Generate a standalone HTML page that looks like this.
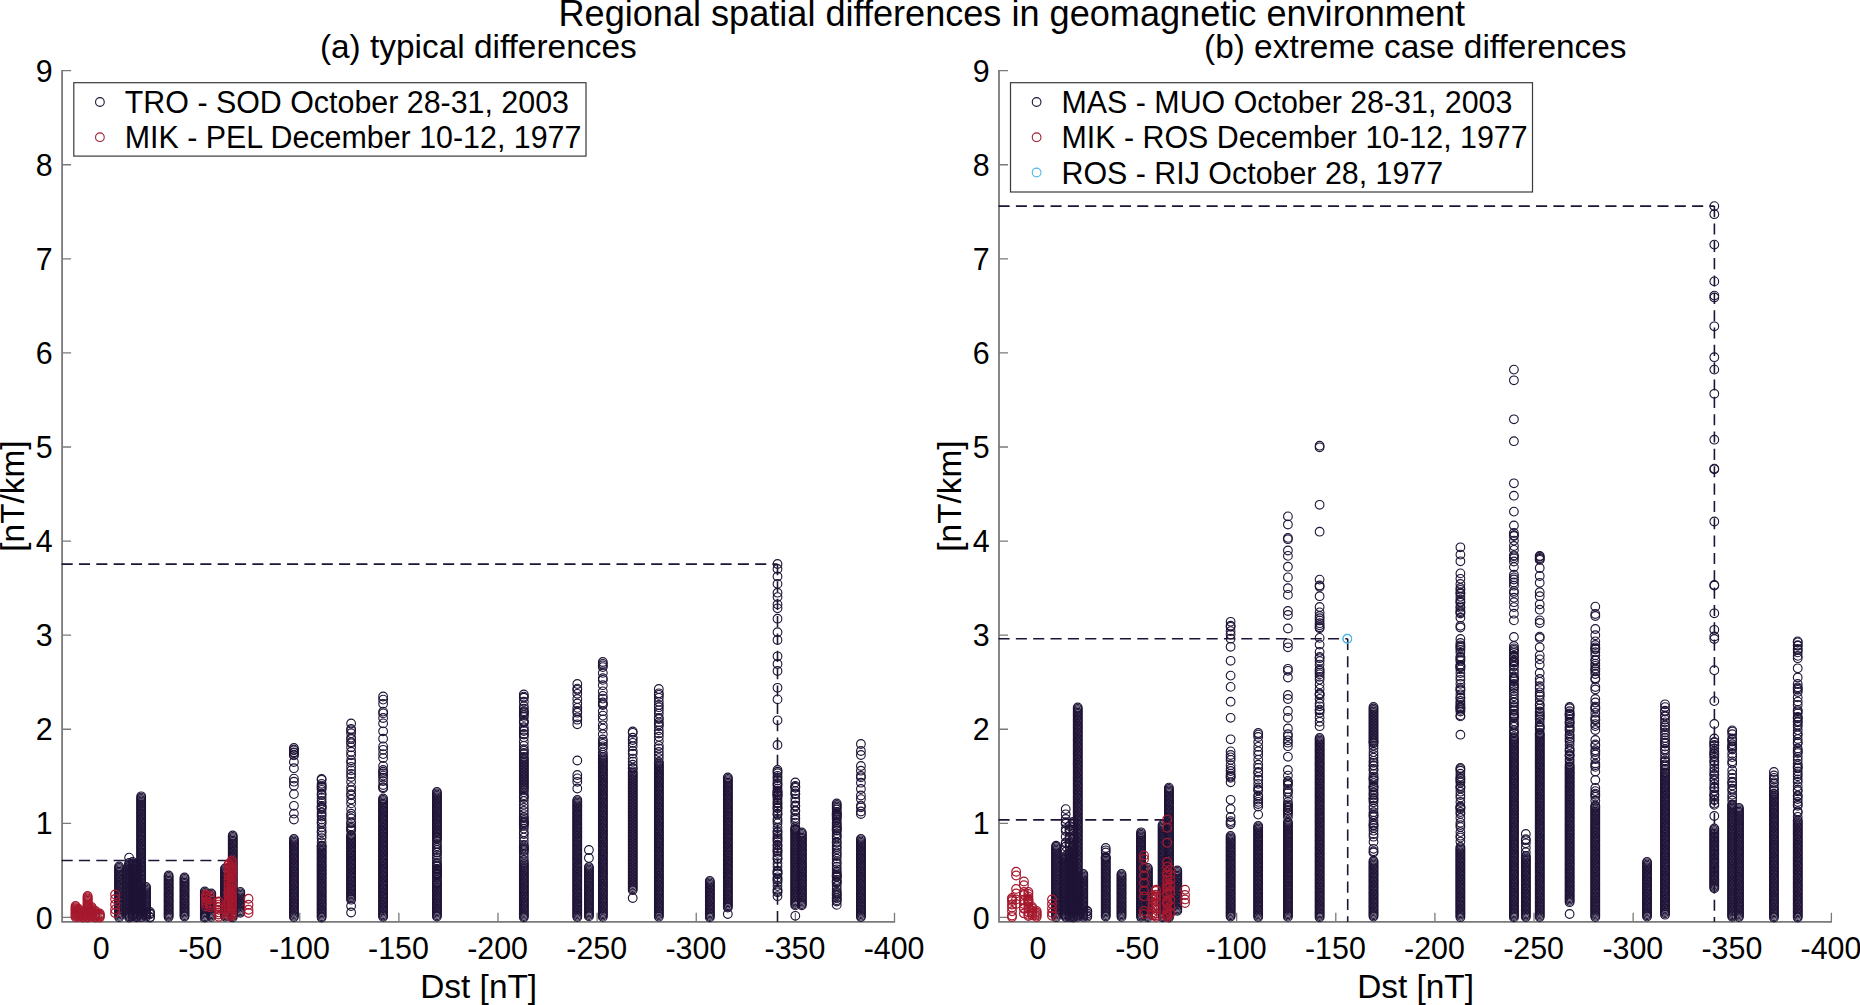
<!DOCTYPE html><html><head><meta charset="utf-8"><title>Regional spatial differences in geomagnetic environment</title>
<style>html,body{margin:0;padding:0;background:#fff}svg{display:block}text{font-family:"Liberation Sans",Arial,Helvetica,sans-serif;fill:#000}.t{font-size:30.4px}.s{font-size:33.4px}.m{font-size:36.12px}.ax{stroke:#7a7a7a;stroke-width:1.8;fill:none}.tk{stroke:#7a7a7a;stroke-width:1.3;fill:none}.d{stroke:#1f1436;stroke-width:1.6;fill:none;stroke-dasharray:11.1 6.24}.c{fill:none;stroke:none}</style></head><body>
<svg width="1860" height="1005" viewBox="0 0 1860 1005">
<defs>
<marker id="k" markerUnits="userSpaceOnUse" markerWidth="12" markerHeight="12" refX="6" refY="6" overflow="visible"><circle cx="6" cy="6" r="4.35" fill="none" stroke="#1f1436" stroke-width="1.1"/></marker>
<marker id="r" markerUnits="userSpaceOnUse" markerWidth="12" markerHeight="12" refX="6" refY="6" overflow="visible"><circle cx="6" cy="6" r="4.35" fill="none" stroke="#a6192e" stroke-width="1.2"/></marker>
<marker id="b" markerUnits="userSpaceOnUse" markerWidth="12" markerHeight="12" refX="6" refY="6" overflow="visible"><circle cx="6" cy="6" r="4.35" fill="none" stroke="#4db8e8" stroke-width="1.1"/></marker>
</defs>
<rect width="100%" height="100%" fill="#fff"/>
<text class="m" x="1011.8" y="26" text-anchor="middle">Regional spatial differences in geomagnetic environment</text>
<text class="s" x="478.3" y="58" text-anchor="middle">(a) typical differences</text>
<text class="s" x="1415.3" y="58" text-anchor="middle">(b) extreme case differences</text>
<path class="ax" d="M62.1 70.0V921.85H895.1"/>
<path class="tk" d="M62.1 917.45h9M62.1 823.36h9M62.1 729.27h9M62.1 635.18h9M62.1 541.09h9M62.1 447.00h9M62.1 352.91h9M62.1 258.82h9M62.1 164.73h9M62.1 70.64h9M101.50 921.85v-9M200.62 921.85v-9M299.75 921.85v-9M398.88 921.85v-9M498.00 921.85v-9M597.12 921.85v-9M696.25 921.85v-9M795.38 921.85v-9M894.50 921.85v-9"/>
<text class="t" transform="translate(52.7 928.5) scale(1 1.045)" text-anchor="end">0</text>
<text class="t" transform="translate(52.7 834.4) scale(1 1.045)" text-anchor="end">1</text>
<text class="t" transform="translate(52.7 740.3) scale(1 1.045)" text-anchor="end">2</text>
<text class="t" transform="translate(52.7 646.2) scale(1 1.045)" text-anchor="end">3</text>
<text class="t" transform="translate(52.7 552.1) scale(1 1.045)" text-anchor="end">4</text>
<text class="t" transform="translate(52.7 458.0) scale(1 1.045)" text-anchor="end">5</text>
<text class="t" transform="translate(52.7 363.9) scale(1 1.045)" text-anchor="end">6</text>
<text class="t" transform="translate(52.7 269.8) scale(1 1.045)" text-anchor="end">7</text>
<text class="t" transform="translate(52.7 175.7) scale(1 1.045)" text-anchor="end">8</text>
<text class="t" transform="translate(52.7 81.6) scale(1 1.045)" text-anchor="end">9</text>
<text class="t" transform="translate(101.1 959.4) scale(1 1.045)" text-anchor="middle">0</text>
<text class="t" transform="translate(200.2 959.4) scale(1 1.045)" text-anchor="middle">-50</text>
<text class="t" transform="translate(299.4 959.4) scale(1 1.045)" text-anchor="middle">-100</text>
<text class="t" transform="translate(398.5 959.4) scale(1 1.045)" text-anchor="middle">-150</text>
<text class="t" transform="translate(497.6 959.4) scale(1 1.045)" text-anchor="middle">-200</text>
<text class="t" transform="translate(596.7 959.4) scale(1 1.045)" text-anchor="middle">-250</text>
<text class="t" transform="translate(695.9 959.4) scale(1 1.045)" text-anchor="middle">-300</text>
<text class="t" transform="translate(795.0 959.4) scale(1 1.045)" text-anchor="middle">-350</text>
<text class="t" transform="translate(894.1 959.4) scale(1 1.045)" text-anchor="middle">-400</text>
<text class="s" x="478.7" y="997.7" text-anchor="middle">Dst [nT]</text>
<text class="s" transform="translate(23.9 496) rotate(-90)" text-anchor="middle">[nT/km]</text>
<path class="d" d="M61.6 564.1H777.5"/><path class="d" d="M777.5 564.1V921.85"/>
<path class="d" d="M61.6 860.5H230.4"/><path class="d" d="M230.4 860.5V921.85"/>
<path class="c" d="M119.1 866.5v1.3v1.3v1.3v1.3v1.3v1.3v1.3v1.3v1.3v1.3v1.3v1.3v1.3v1.3v1.3v1.3v1.3v1.3v1.3v1.3v1.3v1.3v1.3v1.3v1.3v1.3v1.3v1.3v1.3v1.3v1.3v1.3v1.3v1.3v1.3v1.3v1.3v1.3v1.3" marker-start="url(#k)" marker-mid="url(#k)" marker-end="url(#k)"/>
<path class="c" d="M129.1 857.6v5.4v1.3v1.3v1.3v1.3v1.3v1.3v1.3v1.3v1.3v1.3v1.3v1.3v1.3v1.3v1.3v1.3v1.3v1.3v1.3v1.3v1.3v1.3v1.3v1.3v1.3v1.3v1.3v1.3v1.3v1.3v1.3v1.3v1.3v1.3v1.3v1.3v1.3v1.3v1.3v1.3v1.3v1.3" marker-start="url(#k)" marker-mid="url(#k)" marker-end="url(#k)"/>
<path class="c" d="M132.6 862.0v1.3v1.3v1.3v1.3v1.3v1.3v1.3v1.3v1.3v1.3v1.3v1.3v1.3v1.3v1.3v1.3v1.3v1.3v1.3v1.3v1.3v1.3v1.3v1.3v1.3v1.3v1.3v1.3v1.3v1.3v1.3v1.3v1.3v1.3v1.3v1.3v1.3v1.3v1.3v1.3v1.3v1.3" marker-start="url(#k)" marker-mid="url(#k)" marker-end="url(#k)"/>
<path class="c" d="M136.6 864.0v1.3v1.3v1.3v1.3v1.3v1.3v1.3v1.3v1.3v1.3v1.3v1.3v1.3v1.3v1.3v1.3v1.3v1.3v1.3v1.3v1.3v1.3v1.3v1.3v1.3v1.3v1.3v1.3v1.3v1.3v1.3v1.3v1.3v1.3v1.3v1.3v1.3v1.3v1.3v1.3v1.3" marker-start="url(#k)" marker-mid="url(#k)" marker-end="url(#k)"/>
<path class="c" d="M141.2 796.3v1.3v1.3v1.3v1.3v1.3v1.3v1.3v1.3v1.3v1.3v1.3v1.3v1.3v1.3v1.3v1.3v1.3v1.3v1.3v1.3v1.3v1.3v1.3v1.3v1.3v1.3v1.3v1.3v1.3v1.3v1.3v1.3v1.3v1.3v1.3v1.3v1.3v1.3v1.3v1.3v1.3v1.3v1.3v1.3v1.3v1.3v1.3v1.3v1.3v1.3v1.3v1.3v1.3v1.3v1.3v1.3v1.3v1.3v1.3v1.3v1.3v1.3v1.3v1.3v1.3v1.3v1.3v1.3v1.3v1.3v1.3v1.3v1.3v1.3v1.3v1.3v1.3v1.3v1.3v1.3v1.3v1.3v1.3v1.3v1.3v1.3v1.3v1.3v1.3v1.3v1.3v1.3v1.3" marker-start="url(#k)" marker-mid="url(#k)" marker-end="url(#k)"/>
<path class="c" d="M146.0 887.0v1.3v1.3v1.3v1.3v1.3v1.3v1.3v1.3v1.3v1.3v1.3v1.3v1.3v1.3v1.3v1.3v1.3v1.3v1.3v1.3v1.3v1.3v1.3" marker-start="url(#k)" marker-mid="url(#k)" marker-end="url(#k)"/>
<path class="c" d="M150.0 912.0v1.5v.9v2.5v.7" marker-start="url(#k)" marker-mid="url(#k)" marker-end="url(#k)"/>
<path class="c" d="M168.6 875.5v1.3v1.3v1.3v1.3v1.3v1.3v1.3v1.3v1.3v1.3v1.3v1.3v1.3v1.3v1.3v1.3v1.3v1.3v1.3v1.3v1.3v1.3v1.3v1.3v1.3v1.3v1.3v1.3v1.3v1.3v1.3v1.3" marker-start="url(#k)" marker-mid="url(#k)" marker-end="url(#k)"/>
<path class="c" d="M184.5 877.5v1.3v1.3v1.3v1.3v1.3v1.3v1.3v1.3v1.3v1.3v1.3v1.3v1.3v1.3v1.3v1.3v1.3v1.3v1.3v1.3v1.3v1.3v1.3v1.3v1.3v1.3v1.3v1.3v1.3v1.3" marker-start="url(#k)" marker-mid="url(#k)" marker-end="url(#k)"/>
<path class="c" d="M204.8 891.5v1.3v1.3v1.3v1.3v1.3v1.3v1.3v1.3v1.3v1.3v1.3v1.3v1.3v1.3v1.3v1.3v1.3v1.3v1.3v1.3" marker-start="url(#k)" marker-mid="url(#k)" marker-end="url(#k)"/>
<path class="c" d="M211.3 893.5v1.3v1.3v1.3v1.3v1.3v1.3v1.3v1.3v1.3v1.3v1.3v1.3v1.3v1.3v1.3v1.3v1.3v1.3" marker-start="url(#k)" marker-mid="url(#k)" marker-end="url(#k)"/>
<path class="c" d="M225.0 868.5v1.3v1.3v1.3v1.3v1.3v1.3v1.3v1.3v1.3v1.3v1.3v1.3v1.3v1.3v1.3v1.3v1.3v1.3v1.3v1.3v1.3v1.3v1.3v1.3v1.3v1.3v1.3v1.3v1.3v1.3v1.3v1.3v1.3v1.3v1.3v1.3v1.3" marker-start="url(#k)" marker-mid="url(#k)" marker-end="url(#k)"/>
<path class="c" d="M232.7 835.5v1.3v1.3v1.3v1.3v1.3v1.3v1.3v1.3v1.3v1.3v1.3v1.3v1.3v1.3v1.3v1.3v1.3v1.3v1.3v1.3v1.3v1.3v1.3v1.3v1.3v1.3v1.3v1.3v1.3v1.3v1.3v1.3v1.3v1.3v1.3v1.3v1.3v1.3v1.3v1.3v1.3v1.3v1.3v1.3v1.3v1.3v1.3v1.3v1.3v1.3v1.3v1.3v1.3v1.3v1.3v1.3v1.3v1.3v1.3v1.3v1.3v1.3v1.3" marker-start="url(#k)" marker-mid="url(#k)" marker-end="url(#k)"/>
<path class="c" d="M240.3 892.0v1.3v1.3v1.3v1.3v1.3v1.3v1.3v1.3v1.3v1.3v1.3v1.3v1.3v1.3v1.3v1.3" marker-start="url(#k)" marker-mid="url(#k)" marker-end="url(#k)"/>
<path class="c" d="M293.9 748.0v1.6v.7v2v.6v1.8v.7v6.6v6.2v10.4v3.1v4.1v8.3v11.7v7.8v5.9v19.5v1.3v1.3v1.3v1.3v1.3v1.3v1.3v1.3v1.3v1.3v1.3v1.3v1.3v1.3v1.3v1.3v1.3v1.3v1.3v1.3v1.3v1.3v1.3v1.3v1.3v1.3v1.3v1.3v1.3v1.3v1.3v1.3v1.3v1.3v1.3v1.3v1.3v1.3v1.3v1.3v1.3v1.3v1.3v1.3v1.3v1.3v1.3v1.3v1.3v1.3v1.3v1.3v1.3v1.3v1.3v1.3v1.3v1.3v1.3v1.3" marker-start="url(#k)" marker-mid="url(#k)" marker-end="url(#k)"/>
<path class="c" d="M321.6 779.0v.8v4v1.8v1.2v1.1v1.9v3.8v1.4v2.9v3.1v2.1v2.8v.9v.9v1.5v3.3v2.3v1.8v3v2.4v1.8v3.8v3.3v1.6v2.9v2.7v4.1v3.5v.3v1.3v1.3v1.3v1.3v1.3v1.3v1.3v1.3v1.3v1.3v1.3v1.3v1.3v1.3v1.3v1.3v1.3v1.3v1.3v1.3v1.3v1.3v1.3v1.3v1.3v1.3v1.3v1.3v1.3v1.3v1.3v1.3v1.3v1.3v1.3v1.3v1.3v1.3v1.3v1.3v1.3v1.3v1.3v1.3v1.3v1.3v1.3v1.3v1.3v1.3v1.3v1.3v1.3v1.3v1.3" marker-start="url(#k)" marker-mid="url(#k)" marker-end="url(#k)"/>
<path class="c" d="M351.1 723.5v5.5v1.4v2.8v4.4v1.5v3.2v1v4v4.5v3.5v5v2.3v4.2v3.6v3.6v3v4.8v5.3v3.1v4v1.1v4.2v3.9v5.5v4.8v2.2v2.6v4v.9v3v1.6v1.4v1.1v4.5v1v1.3v1.3v1.3v1.3v1.3v1.3v1.3v1.3v1.3v1.3v1.3v1.3v1.3v1.3v1.3v1.3v1.3v1.3v1.3v1.3v1.3v1.3v1.3v1.3v1.3v1.3v1.3v1.3v1.3v1.3v1.3v1.3v1.3v1.3v1.3v1.3v1.3v1.3v1.3v1.3v1.3v1.3v1.3v1.3v1.3v1.3v1.3v1.3v1.3v6.3v6.5" marker-start="url(#k)" marker-mid="url(#k)" marker-end="url(#k)"/>
<path class="c" d="M383.1 696.5v3.1v4.2v7.8v1.8v4.6v5.4v7.9v7.4v7.7v3.4v4.3v4v7.8v4.1v1.7v1.8v2.1v2.1v3.4v3.9v2.3v.9v10.3v1.3v1.3v1.3v1.3v1.3v1.3v1.3v1.3v1.3v1.3v1.3v1.3v1.3v1.3v1.3v1.3v1.3v1.3v1.3v1.3v1.3v1.3v1.3v1.3v1.3v1.3v1.3v1.3v1.3v1.3v1.3v1.3v1.3v1.3v1.3v1.3v1.3v1.3v1.3v1.3v1.3v1.3v1.3v1.3v1.3v1.3v1.3v1.3v1.3v1.3v1.3v1.3v1.3v1.3v1.3v1.3v1.3v1.3v1.3v1.3v1.3v1.3v1.3v1.3v1.3v1.3v1.3v1.3v1.3v1.3v1.3v1.3v1.3v1.3v1.3v1.3v1.3v1.3v1.3v1.3v1.3v1.3v1.3v1.3v1.3v1.3v1.3v1.3v1.3v1.3v1.3" marker-start="url(#k)" marker-mid="url(#k)" marker-end="url(#k)"/>
<path class="c" d="M436.9 792.0v1.3v1.3v1.3v1.3v1.3v1.3v1.3v1.3v1.3v1.3v1.3v1.3v1.3v1.3v1.3v1.3v1.3v1.3v1.3v1.3v1.3v1.3v1.3v1.3v1.3v1.3v1.3v1.3v1.3v1.3v1.3v1.3v1.3v1.3v1.3v.5v1.4v1.8v2.9v2.2v1.7v2v2.2v.5v2.7v2.5v2.6v2.5v1.4v1.4v.7v2.1v.6v.6v.9v.9v1.2v.6v.4v.8v.7v1.4v.5v2.6v2v.8v1.1v.3v1.3v1.3v1.3v1.3v1.3v1.3v1.3v1.3v1.3v1.3v1.3v1.3v1.3v1.3v1.3v1.3v1.3v1.3v1.3v1.3v1.3v1.3v1.3v1.3v1.3" marker-start="url(#k)" marker-mid="url(#k)" marker-end="url(#k)"/>
<path class="c" d="M523.8 694.5v2.1v1.1v4v4.5v2.5v2.5v1v1v2v1.7v3.9v1.3v.7v4.4v2.7v1.2v2.8v.7v2.7v4.5v4v3.4v1.6v2.1v1.3v2.8v1.5v1.5v1.5v1.5v1.5v1.5v1.5v1.5v1.5v1.5v1.5v1.5v1.5v1.5v1.5v1.5v1.5v1.5v1.5v1.5v1.5v1.5v2.2v3v1.5v1.3v3.1v3.6v3.2v3.1v3.1v2.8v1.3v2.1v1.7v.6v.6v1.4v1.3v2.7v3.6v1.9v3.5v3.6v3.6v1.6v1.2v1.3v1.1v1.2v2.5v3.4v3.1v2.1v1.7v1.3v1.3v1.3v1.3v1.3v1.3v1.3v1.3v1.3v1.3v1.3v1.3v1.3v1.3v1.3v1.3v1.3v1.3v1.3v1.3v1.3v1.3v1.3v1.3v1.3v1.3v1.3v1.3v1.3v1.3v1.3v1.3v1.3v1.3v1.3v1.3v1.3v1.3v1.3v1.3v1.3" marker-start="url(#k)" marker-mid="url(#k)" marker-end="url(#k)"/>
<path class="c" d="M577.3 684.0v4.6v1.2v4v5.2v4.5v4.4v3.1v1.7v4.6v2.4v4.6v36.2v14.5v3.4v3.4v6.7v11.5v1.3v1.3v1.3v1.3v1.3v1.3v1.3v1.3v1.3v1.3v1.3v1.3v1.3v1.3v1.3v1.3v1.3v1.3v1.3v1.3v1.3v1.3v1.3v1.3v1.3v1.3v1.3v1.3v1.3v1.3v1.3v1.3v1.3v1.3v1.3v1.3v1.3v1.3v1.3v1.3v1.3v1.3v1.3v1.3v1.3v1.3v1.3v1.3v1.3v1.3v1.3v1.3v1.3v1.3v1.3v1.3v1.3v1.3v1.3v1.3v1.3v1.3v1.3v1.3v1.3v1.3v1.3v1.3v1.3v1.3v1.3v1.3v1.3v1.3v1.3v1.3v1.3v1.3v1.3v1.3v1.3v1.3v1.3v1.3v1.3v1.3v1.3v1.3v1.3v1.3" marker-start="url(#k)" marker-mid="url(#k)" marker-end="url(#k)"/>
<path class="c" d="M588.9 850.0v8v9v1.3v1.3v1.3v1.3v1.3v1.3v1.3v1.3v1.3v1.3v1.3v1.3v1.3v1.3v1.3v1.3v1.3v1.3v1.3v1.3v1.3v1.3v1.3v1.3v1.3v1.3v1.3v1.3v1.3v1.3v1.3v1.3v1.3v1.3v1.3v1.3v1.3v1.3" marker-start="url(#k)" marker-mid="url(#k)" marker-end="url(#k)"/>
<path class="c" d="M602.8 662.0v1.8v1.6v1.7v5.8v5.3v1.7v5.3v6.2v4.5v2.7v3.9v1.6v1v6.1v4.4v3.8v5.9v3.3v5.6v5.3v2.1v2.2v2.5v2.2v4.1v2.3v2.1v1.3v1.3v1.3v1.3v1.3v1.3v1.3v1.3v1.3v1.3v1.3v1.3v1.3v1.3v1.3v1.3v1.3v1.3v1.3v1.3v1.3v1.3v1.3v1.3v1.3v1.3v1.3v1.3v1.3v1.3v1.3v1.3v1.3v1.3v1.3v1.3v1.3v1.3v1.3v1.3v1.3v1.3v1.3v1.3v1.3v1.3v1.3v1.3v1.3v1.3v1.3v1.3v1.3v1.3v1.3v1.3v1.3v1.3v1.3v1.3v1.3v1.3v1.3v1.3v1.3v1.3v1.3v1.3v1.3v1.3v1.3v1.3v1.3v1.3v1.3v1.3v1.3v1.3v1.3v1.3v1.3v1.3v1.3v1.3v1.3v1.3v1.3v1.3v1.3v1.3v1.3v1.3v1.3v1.3v1.3v1.3v1.3v1.3v1.3v1.3v1.3v1.3v1.3v1.3v1.3v1.3v1.3v1.3v1.3v1.3v1.3v1.3v1.3v1.3v1.3v1.3v1.3v1.3v1.3v1.3v1.3v1.3v1.3" marker-start="url(#k)" marker-mid="url(#k)" marker-end="url(#k)"/>
<path class="c" d="M632.7 731.5v1.3v4.9v2.3v2.8v3.4v4.8v2.7v4.9v3v3.1v3.1v.8v2.8v1.6v1.5v1.5v1.5v1.5v1.5v1.5v1.5v1.5v1.5v1.5v1.5v1.5v1.5v1.5v1.5v1.5v1.5v1.5v1.5v1.5v1.5v1.5v1.5v1.5v1.5v1.5v1.5v1.5v1.5v1.5v1.5v1.5v1.5v1.5v1.5v1.5v1.5v1.5v1.5v1.5v1.5v1.5v1.5v1.5v1.5v1.5v1.5v1.5v1.5v1.5v1.5v1.5v1.5v1.5v1.5v1.5v1.5v1.5v1.5v1.5v1.5v1.5v1.5v1.5v1.5v1.5v1.5v1.5v1.5v1.5v1.5v1.5v1.5v1.5v1.5v1.5v1.5v1.5v8" marker-start="url(#k)" marker-mid="url(#k)" marker-end="url(#k)"/>
<path class="c" d="M658.8 689.0v4.3v1.6v2.9v4v3.2v2.2v3.1v3.3v4.2v1.3v3.2v1.9v2v4.2v3.1v3.2v4.2v4.9v2.7v3.5v3.1v3v3.9v1.3v1.3v1.3v1.3v1.3v1.3v1.3v1.3v1.3v1.3v1.3v1.3v1.3v1.3v1.3v1.3v1.3v1.3v1.3v1.3v1.3v1.3v1.3v1.3v1.3v1.3v1.3v1.3v1.3v1.3v1.3v1.3v1.3v1.3v1.3v1.3v1.3v1.3v1.3v1.3v1.3v1.3v1.3v1.3v1.3v1.3v1.3v1.3v1.3v1.3v1.3v1.3v1.3v1.3v1.3v1.3v1.3v1.3v1.3v1.3v1.3v1.3v1.3v1.3v1.3v1.3v1.3v1.3v1.3v1.3v1.3v1.3v1.3v1.3v1.3v1.3v1.3v1.3v1.3v1.3v1.3v1.3v1.3v1.3v1.3v1.3v1.3v1.3v1.3v1.3v1.3v1.3v1.3v1.3v1.3v1.3v1.3v1.3v1.3v1.3v1.3v1.3v1.3v1.3v1.3v1.3v1.3v1.3v1.3v1.3v1.3v1.3v1.3v1.3v1.3v1.3v1.3v1.3v1.3" marker-start="url(#k)" marker-mid="url(#k)" marker-end="url(#k)"/>
<path class="c" d="M709.8 881.0v1.3v1.3v1.3v1.3v1.3v1.3v1.3v1.3v1.3v1.3v1.3v1.3v1.3v1.3v1.3v1.3v1.3v1.3v1.3v1.3v1.3v1.3v1.3v1.3v1.3v1.3v1.3v1.3" marker-start="url(#k)" marker-mid="url(#k)" marker-end="url(#k)"/>
<path class="c" d="M727.8 777.5v1.3v1.3v1.3v1.3v1.3v1.3v1.3v1.3v1.3v1.3v1.3v1.3v1.3v1.3v1.3v1.3v1.3v1.3v1.3v1.3v1.3v1.3v1.3v1.3v1.3v1.3v1.3v1.3v1.3v1.3v1.3v1.3v1.3v1.3v1.3v1.3v1.3v1.3v1.3v1.3v1.3v1.3v1.3v1.3v1.3v1.3v1.3v1.3v1.3v1.3v1.3v1.3v1.3v1.3v1.3v1.3v1.3v1.3v1.3v1.3v1.3v1.3v1.3v1.3v1.3v1.3v1.3v1.3v1.3v1.3v1.3v1.3v1.3v1.3v1.3v1.3v1.3v1.3v1.3v1.3v1.3v1.3v1.3v1.3v1.3v1.3v1.3v1.3v1.3v1.3v1.3v1.3v1.3v1.3v1.3v1.3v1.3v1.3v1.3v1.3v6.5" marker-start="url(#k)" marker-mid="url(#k)" marker-end="url(#k)"/>
<path class="c" d="M777.5 564.0v5v7.5v7.4v8.8v4.4v7.3v3.9v10.4v13.5v7.8v16.3v7.7v7v16.8v11.6v20.9v24.7v25v1.7v1.5v2.7v2.1v2.5v2.6v1.1v1.7v2.7v2.4v.7v.7v1.5v.5v1v.6v2v2.3v2.5v.8v2.1v2v.7v2.6v2.7v.9v4.4v2v2.4v4.2v3.5v1.2v2.2v2.4v1.9v1.3v1.7v3.2v.7v2.6v2.2v.6v1.8v2.9v2.4v.8v4.2v3.4v4.1v1v1.6v.7v3.4v1.6v1v2.2v3.8v3.6v1.5v1.2v3.9" marker-start="url(#k)" marker-mid="url(#k)" marker-end="url(#k)"/>
<path class="c" d="M795.3 782.5v3.4v1v.9v3.3v2.3v.9v4.3v3.2v3.7v1v4v.9v4v2.5v1.9v2.8v4.3v1.7v1.1v.3v1.3v1.3v1.3v1.3v1.3v1.3v1.3v1.3v1.3v1.3v1.3v1.3v1.3v1.3v1.3v1.3v1.3v1.3v1.3v1.3v1.3v1.3v1.3v1.3v1.3v1.3v1.3v1.3v1.3v1.3v1.3v1.3v1.3v1.3v1.3v1.3v1.3v1.3v1.3v1.3v1.3v1.3v1.3v1.3v1.3v1.3v1.3v1.3v1.3v1.3v1.3v1.3v1.3v1.3v1.3v1.3v1.3v1.3v10.4" marker-start="url(#k)" marker-mid="url(#k)" marker-end="url(#k)"/>
<path class="c" d="M801.8 832.5v1.3v1.3v1.3v1.3v1.3v1.3v1.3v1.3v1.3v1.3v1.3v1.3v1.3v1.3v1.3v1.3v1.3v1.3v1.3v1.3v1.3v1.3v1.3v1.3v1.3v1.3v1.3v1.3v1.3v1.3v1.3v1.3v1.3v1.3v1.3v1.3v1.3v1.3v1.3v1.3v1.3v1.3v1.3v1.3v1.3v1.3v1.3v1.3v1.3v1.3v1.3v1.3v1.3v1.3v1.3v1.3" marker-start="url(#k)" marker-mid="url(#k)" marker-end="url(#k)"/>
<path class="c" d="M836.7 803.5v1.5v1.5v1.5v1.5v2.5v1.2v.8v1v.7v1.1v1.4v1.4v2.8v1.4v2v1v1.6v.5v1.3v.5v2.7v2.2v1v2v3.3v.8v2.9v1.8v2v3v1.7v2v2.6v3.4v1.6v3v2.6v2.4v1.7v1.5v.7v.9v.7v2.7v1.3v1v.7v3.1v3.1v2.5v1.3v1.3v1.3v1.9v1v1.8v1.3v3.4" marker-start="url(#k)" marker-mid="url(#k)" marker-end="url(#k)"/>
<path class="c" d="M860.9 744.0v7v4v11v4.7v5.1v1.6v5.3v6.3v6.5v3.6v6.5v1.7v4.2v2.5v25v1.3v1.3v1.3v1.3v1.3v1.3v1.3v1.3v1.3v1.3v1.3v1.3v1.3v1.3v1.3v1.3v1.3v1.3v1.3v1.3v1.3v1.3v1.3v1.3v1.3v1.3v1.3v1.3v1.3v1.3v1.3v1.3v1.3v1.3v1.3v1.3v1.3v1.3v1.3v1.3v1.3v1.3v1.3v1.3v1.3v1.3v1.3v1.3v1.3v1.3v1.3v1.3v1.3v1.3v1.3v1.3v1.3v1.3v1.3v1.3" marker-start="url(#k)" marker-mid="url(#k)" marker-end="url(#k)"/>
<path class="c" d="M75.6 906.0v1.1v1.1v1.1v1.1v1.1v1.1v1.1v1.1v1.1v1.1" marker-start="url(#r)" marker-mid="url(#r)" marker-end="url(#r)"/>
<path class="c" d="M78.6 909.0v1.1v1.1v1.1v1.1v1.1v1.1v1.1" marker-start="url(#r)" marker-mid="url(#r)" marker-end="url(#r)"/>
<path class="c" d="M83.0 912.0v1.1v1.1v1.1v1.1v1.1" marker-start="url(#r)" marker-mid="url(#r)" marker-end="url(#r)"/>
<path class="c" d="M87.6 896.0v1.2v1.2v1.2v1.2v1.2v1.2v1.2v1.2v1.2v1.2v1.2v1.2v1.2v1.2v1.2v1.2v1.2v1.2" marker-start="url(#r)" marker-mid="url(#r)" marker-end="url(#r)"/>
<path class="c" d="M91.6 907.0v1.1v1.1v1.1v1.1v1.1v1.1v1.1v1.1v1.1" marker-start="url(#r)" marker-mid="url(#r)" marker-end="url(#r)"/>
<path class="c" d="M95.5 911.0v1.1v1.1v1.1v1.1v1.1v1.1" marker-start="url(#r)" marker-mid="url(#r)" marker-end="url(#r)"/>
<path class="c" d="M99.7 913.5v1v1v1v1" marker-start="url(#r)" marker-mid="url(#r)" marker-end="url(#r)"/>
<path class="c" d="M115.1 894.5v4.5v5.5v5v3.5" marker-start="url(#r)" marker-mid="url(#r)" marker-end="url(#r)"/>
<path class="c" d="M206.2 894.5v.7v.6v1.6v1.3v2.5v2.3v3" marker-start="url(#r)" marker-mid="url(#r)" marker-end="url(#r)"/>
<path class="c" d="M210.2 896.0v3.3v3.9v2.1v1.9" marker-start="url(#r)" marker-mid="url(#r)" marker-end="url(#r)"/>
<path class="c" d="M218.7 901.5v.8v2.3v2v.6v2.5v2.7v2.1v2.3" marker-start="url(#r)" marker-mid="url(#r)" marker-end="url(#r)"/>
<path class="c" d="M228.6 864.0v1v2.3v2.2v3.3v3.2v3.3v2.5v3.5v2.8v2.8v1.3v.7v1v1.7v.9v3.3v2.4v2.6v2.6v2.8v2.2v.6v3.1" marker-start="url(#r)" marker-mid="url(#r)" marker-end="url(#r)"/>
<path class="c" d="M231.8 860.5v1.8v1.9v2.2v.7v2.4v1.1v.7v1.1v2.5v1v2.4v3.1v1.8v1.5v1.7v2.3v2.5v2.1v2.2v.7v.8v1.2v2.4v1.3v2v.5v.6v1.2v2.2v2.3v2.3v1.3v1.8" marker-start="url(#r)" marker-mid="url(#r)" marker-end="url(#r)"/>
<path class="c" d="M248.5 898.8v6v4.9v3.3" marker-start="url(#r)" marker-mid="url(#r)" marker-end="url(#r)"/>
<rect x="73.8" y="82.7" width="512.2" height="73.4" fill="#fff" stroke="#3a3a3a" stroke-width="1.2"/>
<circle cx="99.9" cy="102.0" r="4.35" fill="none" stroke="#1f1436" stroke-width="1.1"/>
<text class="t" transform="translate(124.8 113.0) scale(1 1.035)">TRO - SOD October 28-31, 2003</text>
<circle cx="99.9" cy="137.2" r="4.35" fill="none" stroke="#a6192e" stroke-width="1.1"/>
<text class="t" transform="translate(124.8 148.2) scale(1 1.035)">MIK - PEL December 10-12, 1977</text>
<path class="ax" d="M999.0 70.0V921.85H1832.0"/>
<path class="tk" d="M999.0 917.45h9M999.0 823.36h9M999.0 729.27h9M999.0 635.18h9M999.0 541.09h9M999.0 447.00h9M999.0 352.91h9M999.0 258.82h9M999.0 164.73h9M999.0 70.64h9M1038.40 921.85v-9M1137.53 921.85v-9M1236.65 921.85v-9M1335.78 921.85v-9M1434.90 921.85v-9M1534.03 921.85v-9M1633.15 921.85v-9M1732.28 921.85v-9M1831.40 921.85v-9"/>
<text class="t" transform="translate(989.6 928.5) scale(1 1.045)" text-anchor="end">0</text>
<text class="t" transform="translate(989.6 834.4) scale(1 1.045)" text-anchor="end">1</text>
<text class="t" transform="translate(989.6 740.3) scale(1 1.045)" text-anchor="end">2</text>
<text class="t" transform="translate(989.6 646.2) scale(1 1.045)" text-anchor="end">3</text>
<text class="t" transform="translate(989.6 552.1) scale(1 1.045)" text-anchor="end">4</text>
<text class="t" transform="translate(989.6 458.0) scale(1 1.045)" text-anchor="end">5</text>
<text class="t" transform="translate(989.6 363.9) scale(1 1.045)" text-anchor="end">6</text>
<text class="t" transform="translate(989.6 269.8) scale(1 1.045)" text-anchor="end">7</text>
<text class="t" transform="translate(989.6 175.7) scale(1 1.045)" text-anchor="end">8</text>
<text class="t" transform="translate(989.6 81.6) scale(1 1.045)" text-anchor="end">9</text>
<text class="t" transform="translate(1038.0 959.4) scale(1 1.045)" text-anchor="middle">0</text>
<text class="t" transform="translate(1137.1 959.4) scale(1 1.045)" text-anchor="middle">-50</text>
<text class="t" transform="translate(1236.2 959.4) scale(1 1.045)" text-anchor="middle">-100</text>
<text class="t" transform="translate(1335.4 959.4) scale(1 1.045)" text-anchor="middle">-150</text>
<text class="t" transform="translate(1434.5 959.4) scale(1 1.045)" text-anchor="middle">-200</text>
<text class="t" transform="translate(1533.6 959.4) scale(1 1.045)" text-anchor="middle">-250</text>
<text class="t" transform="translate(1632.8 959.4) scale(1 1.045)" text-anchor="middle">-300</text>
<text class="t" transform="translate(1731.9 959.4) scale(1 1.045)" text-anchor="middle">-350</text>
<text class="t" transform="translate(1831.0 959.4) scale(1 1.045)" text-anchor="middle">-400</text>
<text class="s" x="1415.6" y="997.7" text-anchor="middle">Dst [nT]</text>
<text class="s" transform="translate(960.8 496) rotate(-90)" text-anchor="middle">[nT/km]</text>
<path class="d" d="M998.5 206.1H1714.4"/><path class="d" d="M1714.4 206.1V921.85"/>
<path class="d" d="M998.5 638.8H1347.7"/><path class="d" d="M1347.7 638.8V921.85"/>
<path class="d" d="M998.5 819.9H1167.3"/><path class="d" d="M1167.3 819.9V921.85"/>
<path class="c" d="M1056.1 845.7v1.3v1.3v1.3v1.3v1.3v1.3v1.3v1.3v1.3v1.3v1.3v1.3v1.3v1.3v1.3v1.3v1.3v1.3v1.3v1.3v1.3v1.3v1.3v1.3v1.3v1.3v1.3v1.3v1.3v1.3v1.3v1.3v1.3v1.3v1.3v1.3v1.3v1.3v1.3v1.3v1.3v1.3v1.3v1.3v1.3v1.3v1.3v1.3v1.3v1.3v1.3v1.3v1.3v1.3v1.3" marker-start="url(#k)" marker-mid="url(#k)" marker-end="url(#k)"/>
<path class="c" d="M1065.7 809.1v5.2v4.7v3.2v1.5v5.4v1.9v5.8v5.6v1v3.1v5.1v4.4v1.3v1.3v1.3v1.3v1.3v1.3v1.3v1.3v1.3v1.3v1.3v1.3v1.3v1.3v1.3v1.3v1.3v1.3v1.3v1.3v1.3v1.3v1.3v1.3v1.3v1.3v1.3v1.3v1.3v1.3v1.3v1.3v1.3v1.3v1.3v1.3v1.3v1.3v1.3v1.3v1.3v1.3v1.3v1.3v1.3v1.3v1.3" marker-start="url(#k)" marker-mid="url(#k)" marker-end="url(#k)"/>
<path class="c" d="M1069.5 826.0v2.8v1.9v1.7v5v1.7v3.4v1.4v3.1v5v1.3v1.3v1.3v1.3v1.3v1.3v1.3v1.3v1.3v1.3v1.3v1.3v1.3v1.3v1.3v1.3v1.3v1.3v1.3v1.3v1.3v1.3v1.3v1.3v1.3v1.3v1.3v1.3v1.3v1.3v1.3v1.3v1.3v1.3v1.3v1.3v1.3v1.3v1.3v1.3v1.3v1.3v1.3v1.3v1.3v1.3v1.3v1.3v1.3v1.3" marker-start="url(#k)" marker-mid="url(#k)" marker-end="url(#k)"/>
<path class="c" d="M1073.2 822.0v1.2v3.8v2.7v4.1v3.4v1.5v4.2v2.5v.6v1.3v1.3v1.3v1.3v1.3v1.3v1.3v1.3v1.3v1.3v1.3v1.3v1.3v1.3v1.3v1.3v1.3v1.3v1.3v1.3v1.3v1.3v1.3v1.3v1.3v1.3v1.3v1.3v1.3v1.3v1.3v1.3v1.3v1.3v1.3v1.3v1.3v1.3v1.3v1.3v1.3v1.3v1.3v1.3v1.3v1.3v1.3v1.3v1.3v1.3v1.3v1.3v1.3v1.3v1.3" marker-start="url(#k)" marker-mid="url(#k)" marker-end="url(#k)"/>
<path class="c" d="M1077.7 707.5v1.3v1.3v1.3v1.3v1.3v1.3v1.3v1.3v1.3v1.3v1.3v1.3v1.3v1.3v1.3v1.3v1.3v1.3v1.3v1.3v1.3v1.3v1.3v1.3v1.3v1.3v1.3v1.3v1.3v1.3v1.3v1.3v1.3v1.3v1.3v1.3v1.3v1.3v1.3v1.3v1.3v1.3v1.3v1.3v1.3v1.3v1.3v1.3v1.3v1.3v1.3v1.3v1.3v1.3v1.3v1.3v1.3v1.3v1.3v1.3v1.3v1.3v1.3v1.3v1.3v1.3v1.3v1.3v1.3v1.3v1.3v1.3v1.3v1.3v1.3v1.3v1.3v1.3v1.3v1.3v1.3v1.3v1.3v1.3v1.3v1.3v1.3v1.3v1.3v1.3v1.3v1.3v1.3v1.3v1.3v1.3v1.3v1.3v1.3v1.3v1.3v1.3v1.3v1.3v1.3v1.3v1.3v1.3v1.3v1.3v1.3v1.3v1.3v1.3v1.3v1.3v1.3v1.3v1.3v1.3v1.3v1.3v1.3v1.3v1.3v1.3v1.3v1.3v1.3v1.3v1.3v1.3v1.3v1.3v1.3v1.3v1.3v1.3v1.3v1.3v1.3v1.3v1.3v1.3v1.3v1.3v1.3v1.3v1.3v1.3v1.3v1.3v1.3v1.3v1.3v1.3v1.3v1.3v1.3v1.3v1.3" marker-start="url(#k)" marker-mid="url(#k)" marker-end="url(#k)"/>
<path class="c" d="M1083.3 874.0v1.3v1.3v1.3v1.3v1.3v1.3v1.3v1.3v1.3v1.3v1.3v1.3v1.3v1.3v1.3v1.3v1.3v1.3v1.3v1.3v1.3v1.3v1.3v1.3v1.3v1.3v1.3v1.3v1.3v1.3v1.3v1.3v1.3" marker-start="url(#k)" marker-mid="url(#k)" marker-end="url(#k)"/>
<path class="c" d="M1087.3 911.0v.5v2v1.8v1.4" marker-start="url(#k)" marker-mid="url(#k)" marker-end="url(#k)"/>
<path class="c" d="M1105.7 848.0v2.3v2.2v4.5v.8v.2v1.3v1.3v1.3v1.3v1.3v1.3v1.3v1.3v1.3v1.3v1.3v1.3v1.3v1.3v1.3v1.3v1.3v1.3v1.3v1.3v1.3v1.3v1.3v1.3v1.3v1.3v1.3v1.3v1.3v1.3v1.3v1.3v1.3v1.3v1.3v1.3v1.3v1.3v1.3v1.3v1.3v1.3v1.3v1.3v1.3" marker-start="url(#k)" marker-mid="url(#k)" marker-end="url(#k)"/>
<path class="c" d="M1121.5 874.0v1.3v1.3v1.3v1.3v1.3v1.3v1.3v1.3v1.3v1.3v1.3v1.3v1.3v1.3v1.3v1.3v1.3v1.3v1.3v1.3v1.3v1.3v1.3v1.3v1.3v1.3v1.3v1.3v1.3v1.3v1.3v1.3v1.3" marker-start="url(#k)" marker-mid="url(#k)" marker-end="url(#k)"/>
<path class="c" d="M1141.0 832.3v1.3v1.3v1.3v1.3v1.3v1.3v1.3v1.3v1.3v1.3v1.3v1.3v1.3v1.3v1.3v1.3v1.3v1.3v1.3v1.3v1.3v1.3v1.3v1.3v1.3v1.3v1.3v1.3v1.3v1.3v1.3v1.3v1.3v1.3v1.3v1.3v1.3v1.3v1.3v1.3v1.3v1.3v1.3v1.3v1.3v1.3v1.3v1.3v1.3v1.3v1.3v1.3v1.3v1.3v1.3v1.3v1.3v1.3v1.3v1.3v1.3v1.3v1.3v1.3v1.3" marker-start="url(#k)" marker-mid="url(#k)" marker-end="url(#k)"/>
<path class="c" d="M1147.8 868.0v1.3v1.3v1.3v1.3v1.3v1.3v1.3v1.3v1.3v1.3v1.3v1.3v1.3v1.3v1.3v1.3v1.3v1.3v1.3v1.3v1.3v1.3v1.3v1.3v1.3v1.3v1.3v1.3v1.3v1.3v1.3v1.3v1.3v1.3v1.3v1.3v1.3v1.3" marker-start="url(#k)" marker-mid="url(#k)" marker-end="url(#k)"/>
<path class="c" d="M1162.6 825.0v1.3v1.3v1.3v1.3v1.3v1.3v1.3v1.3v1.3v1.3v1.3v1.3v1.3v1.3v1.3v1.3v1.3v1.3v1.3v1.3v1.3v1.3v1.3v1.3v1.3v1.3v1.3v1.3v1.3v1.3v1.3v1.3v1.3v1.3v1.3v1.3v1.3v1.3v1.3v1.3v1.3v1.3v1.3v1.3v1.3v1.3v1.3v1.3v1.3v1.3v1.3v1.3v1.3v1.3v1.3v1.3v1.3v1.3v1.3v1.3v1.3v1.3v1.3v1.3v1.3v1.3v1.3v1.3v1.3v1.3v1.3" marker-start="url(#k)" marker-mid="url(#k)" marker-end="url(#k)"/>
<path class="c" d="M1168.9 787.6v1.3v1.3v1.3v1.3v1.3v1.3v1.3v1.3v1.3v1.3v1.3v1.3v1.3v1.3v1.3v1.3v1.3v1.3v1.3v1.3v1.3v1.3v1.3v1.3v1.3v1.3v1.3v1.3v1.3v1.3v1.3v1.3v1.3v1.3v1.3v1.3v1.3v1.3v1.3v1.3v1.3v1.3v1.3v1.3v1.3v1.3v1.3v1.3v1.3v1.3v1.3v1.3v1.3v1.3v1.3v1.3v1.3v1.3v1.3v1.3v1.3v1.3v1.3v1.3v1.3v1.3v1.3v1.3v1.3v1.3v1.3v1.3v1.3v1.3v1.3v1.3v1.3v1.3v1.3v1.3v1.3v1.3v1.3v1.3v1.3v1.3v1.3v1.3v1.3v1.3v1.3v1.3v1.3v1.3v1.3v1.3v1.3v1.3v1.3v1.3" marker-start="url(#k)" marker-mid="url(#k)" marker-end="url(#k)"/>
<path class="c" d="M1177.3 870.5v1.3v1.3v1.3v1.3v1.3v1.3v1.3v1.3v1.3v1.3v1.3v1.3v1.3v1.3v1.3v1.3v1.3v1.3v1.3v1.3v1.3v1.3v1.3v1.3v1.3v1.3v1.3v1.3v1.3v1.3v1.3" marker-start="url(#k)" marker-mid="url(#k)" marker-end="url(#k)"/>
<path class="c" d="M1230.6 621.8v3.9v1.1v4.3v3.4v4.2v8.1v14v14.8v11.3v14.8v16.1v21.5v12.1v3.6v2.4v2.5v5.3v3.4v2.4v2.6v2v1v1.2v4.5v17.5v9.2v8v4.1v1.6v1.6v11.7v1.3v1.3v1.3v1.3v1.3v1.3v1.3v1.3v1.3v1.3v1.3v1.3v1.3v1.3v1.3v1.3v1.3v1.3v1.3v1.3v1.3v1.3v1.3v1.3v1.3v1.3v1.3v1.3v1.3v1.3v1.3v1.3v1.3v1.3v1.3v1.3v1.3v1.3v1.3v1.3v1.3v1.3v1.3v1.3v1.3v1.3v1.3v1.3v1.3v1.3v1.3v1.3v1.3v1.3v1.3v1.3v1.3v1.3v1.3v1.3v1.3v1.3" marker-start="url(#k)" marker-mid="url(#k)" marker-end="url(#k)"/>
<path class="c" d="M1258.2 733.0v1.6v2.4v5.1v4.7v4.4v3.6v4.9v5v3.2v4v.9v4.1v2.8v4.1v3.6v2.1v1v4.9v1.3v2.9v2.3v2.1v2.5v8.1v11.4v1.3v1.3v1.3v1.3v1.3v1.3v1.3v1.3v1.3v1.3v1.3v1.3v1.3v1.3v1.3v1.3v1.3v1.3v1.3v1.3v1.3v1.3v1.3v1.3v1.3v1.3v1.3v1.3v1.3v1.3v1.3v1.3v1.3v1.3v1.3v1.3v1.3v1.3v1.3v1.3v1.3v1.3v1.3v1.3v1.3v1.3v1.3v1.3v1.3v1.3v1.3v1.3v1.3v1.3v1.3v1.3v1.3v1.3v1.3v1.3v1.3v1.3v1.3v1.3v1.3v1.3v1.3v1.3v1.3v1.3" marker-start="url(#k)" marker-mid="url(#k)" marker-end="url(#k)"/>
<path class="c" d="M1287.9 516.4v8.1v13.4v1.3v11.3v5.4v10.8v10.7v10.8v6.7v16.1v4v13.5v14.8v4v21.5v2v6.7v17.5v4v12v6.8v10.7v5.7v2.1v4v2.4v3.5v10.6v13.2v5.6v5.4v1.3v1.3v1.4v4.2v2.6v1.5v4.2v4.5v2.4v1.2v1.4v1v2v1v1.6v1.7v2.8v4.9v1.3v1.3v1.3v1.3v1.3v1.3v1.3v1.3v1.3v1.3v1.3v1.3v1.3v1.3v1.3v1.3v1.3v1.3v1.3v1.3v1.3v1.3v1.3v1.3v1.3v1.3v1.3v1.3v1.3v1.3v1.3v1.3v1.3v1.3v1.3v1.3v1.3v1.3v1.3v1.3v1.3v1.3v1.3v1.3v1.3v1.3v1.3v1.3v1.3v1.3v1.3v1.3v1.3v1.3v1.3v1.3v1.3v1.3v1.3v1.3v1.3v1.3v1.3v1.3v1.3v1.3v1.3v1.3v1.3v1.3v1.3v1.3v1.3" marker-start="url(#k)" marker-mid="url(#k)" marker-end="url(#k)"/>
<path class="c" d="M1319.6 445.7v1.6v57.5v26.9v47.9v5.9v1.3v9.4v10.8v5.4v3.6v2.2v2.3v2.7v2.1v2v.9v9.7v6.7v7.4v4.9v1.3v2.9v3.5v4.5v1.6v1.9v1.8v2.5v2.7v4.8v4.5v4.5v.8v.9v3.8v4.6v2.8v3.3v.7v2.4v4.8v4.3v4.4v11.8v1.3v1.3v1.3v1.3v1.3v1.3v1.3v1.3v1.3v1.3v1.3v1.3v1.3v1.3v1.3v1.3v1.3v1.3v1.3v1.3v1.3v1.3v1.3v1.3v1.3v1.3v1.3v1.3v1.3v1.3v1.3v1.3v1.3v1.3v1.3v1.3v1.3v1.3v1.3v1.3v1.3v1.3v1.3v1.3v1.3v1.3v1.3v1.3v1.3v1.3v1.3v1.3v1.3v1.3v1.3v1.3v1.3v1.3v1.3v1.3v1.3v1.3v1.3v1.3v1.3v1.3v1.3v1.3v1.3v1.3v1.3v1.3v1.3v1.3v1.3v1.3v1.3v1.3v1.3v1.3v1.3v1.3v1.3v1.3v1.3v1.3v1.3v1.3v1.3v1.3v1.3v1.3v1.3v1.3v1.3v1.3v1.3v1.3v1.3v1.3v1.3v1.3v1.3v1.3v1.3v1.3v1.3v1.3v1.3v1.3v1.3v1.3v1.3v1.3v1.3v1.3v1.3v1.3v1.3v1.3v1.3v1.3v1.3v1.3v1.3v1.3v1.3v1.3v1.3v1.3v1.3v1.3v1.3v1.3v1.3v1.3v1.3v1.3" marker-start="url(#k)" marker-mid="url(#k)" marker-end="url(#k)"/>
<path class="c" d="M1373.5 707.0v1.5v1.5v1.5v1.5v1.5v1.5v1.5v1.5v1.5v1.5v1.5v1.5v1.5v1.5v1.5v1.5v1.5v1.5v1.5v1.5v1.5v1.5v1.4v.9v1v2.3v2.8v3.7v2.9v2.7v3.1v2v2.4v.7v3.1v1.3v3.6v2.7v1.5v1v1.4v2.6v2.9v.9v.8v2.3v2.5v1.8v1.3v2.5v.6v1.5v2.1v3.7v2.7v3.5v2.1v1.3v1.4v3.7v2.9v1.5v.7v2.1v2.8v3.3v2.7v5.2v6.9v2.5v1.2v8.2v1.3v1.3v1.3v1.3v1.3v1.3v1.3v1.3v1.3v1.3v1.3v1.3v1.3v1.3v1.3v1.3v1.3v1.3v1.3v1.3v1.3v1.3v1.3v1.3v1.3v1.3v1.3v1.3v1.3v1.3v1.3v1.3v1.3v1.3v1.3v1.3v1.3v1.3v1.3v1.3v1.3v1.3v1.3" marker-start="url(#k)" marker-mid="url(#k)" marker-end="url(#k)"/>
<path class="c" d="M1460.4 547.3v7.3v6.7v12.1v5.4v5.2v4v1.8v2.7v1.2v3v2.9v2.1v1.1v3.6v1.5v3.1v1.3v1.2v4.2v8.1v1.7v11.5v4v2.3v1.2v1.4v2v2.8v3.9v1.1v1.9v1.3v3.9v1.1v.8v.7v2v3.6v3.7v3.1v4v3.8v1.7v1.2v3.8v3.2v.6v2.9v1.9v1.9v1.7v1.1v.6v1.6v1.7v3.9v1v18.3v33.3v1.1v1.6v3v2.9v1.8v.7v1.9v1.6v3.3v1v1.6v3.2v3.3v2.6v4.4v4.2v.9v.9v1.1v2.9v1.9v4.1v4.8v2.3v2v5v3.6v1.9v4v5.4v1.3v1.3v1.3v1.3v1.3v1.3v1.3v1.3v1.3v1.3v1.3v1.3v1.3v1.3v1.3v1.3v1.3v1.3v1.3v1.3v1.3v1.3v1.3v1.3v1.3v1.3v1.3v1.3v1.3v1.3v1.3v1.3v1.3v1.3v1.3v1.3v1.3v1.3v1.3v1.3v1.3v1.3v1.3v1.3v1.3v1.3v1.3v1.3v1.3v1.3v1.3v1.3v1.3v1.3" marker-start="url(#k)" marker-mid="url(#k)" marker-end="url(#k)"/>
<path class="c" d="M1513.9 369.6v10.7v39v21.9v42.1v12.4v15.9v13.9v7.5v2.2v.8v4.6v5.4v3.9v5.5v1v1.9v3.2v5.6v7.6v2.7v2.1v3v3.2v5.4v1.8v4.8v4.5v4.9v6.6v6.7v16.6v9v2.3v1.5v1.5v1.5v2.9v.7v1.1v2.8v1.2v.7v.6v2.2v1.5v3.4v3.1v3.5v1.3v.8v.7v2v2.7v1.8v1.2v1.8v2.3v2.5v2.8v3v2.5v.9v3v1.4v2.2v1.6v2.7v1.1v1.3v1.2v1v3.1v2.3v1.4v1.7v3.5v2v1.2v2.9v1.6v1.3v1.3v1.3v1.3v1.3v1.3v1.3v1.3v1.3v1.3v1.3v1.3v1.3v1.3v1.3v1.3v1.3v1.3v1.3v1.3v1.3v1.3v1.3v1.3v1.3v1.3v1.3v1.3v1.3v1.3v1.3v1.3v1.3v1.3v1.3v1.3v1.3v1.3v1.3v1.3v1.3v1.3v1.3v1.3v1.3v1.3v1.3v1.3v1.3v1.3v1.3v1.3v1.3v1.3v1.3v1.3v1.3v1.3v1.3v1.3v1.3v1.3v1.3v1.3v1.3v1.3v1.3v1.3v1.3v1.3v1.3v1.3v1.3v1.3v1.3v1.3v1.3v1.3v1.3v1.3v1.3v1.3v1.3v1.3v1.3v1.3v1.3v1.3v1.3v1.3v1.3v1.3v1.3v1.3v1.3v1.3v1.3v1.3v1.3v1.3v1.3v1.3v1.3v1.3v1.3v1.3v1.3v1.3v1.3v1.3v1.3v1.3v1.3v1.3v1.3v1.3v1.3v1.3v1.3v1.3v1.3v1.3v1.3v1.3v1.3v1.3v1.3v1.3v1.3v1.3v1.3v1.3v1.3v1.3v1.3v1.3v1.3v1.3" marker-start="url(#k)" marker-mid="url(#k)" marker-end="url(#k)"/>
<path class="c" d="M1525.8 834.0v5.2v1.2v2.9v4.4v4.6v3.7v1.3v1.3v1.3v1.3v1.3v1.3v1.3v1.3v1.3v1.3v1.3v1.3v1.3v1.3v1.3v1.3v1.3v1.3v1.3v1.3v1.3v1.3v1.3v1.3v1.3v1.3v1.3v1.3v1.3v1.3v1.3v1.3v1.3v1.3v1.3v1.3v1.3v1.3v1.3v1.3v1.3v1.3v1.3v1.3v1.3v1.3v1.3" marker-start="url(#k)" marker-mid="url(#k)" marker-end="url(#k)"/>
<path class="c" d="M1539.7 556.0v.6v1.4v.9v1v8.1v8v6.8v9.4v4v8.1v5.4v10.7v2.6v13.6v1.4v9.3v8.1v4v5.4v8.2v6v2.9v4.3v2.1v4v2.4v1.7v3.7v4.3v1.1v3v3v1.5v2.1v1.2v1.5v1.6v3v3.2v1.4v.7v1.9v3.3v1.4v.7v1.3v1.3v1.3v1.3v1.3v1.3v1.3v1.3v1.3v1.3v1.3v1.3v1.3v1.3v1.3v1.3v1.3v1.3v1.3v1.3v1.3v1.3v1.3v1.3v1.3v1.3v1.3v1.3v1.3v1.3v1.3v1.3v1.3v1.3v1.3v1.3v1.3v1.3v1.3v1.3v1.3v1.3v1.3v1.3v1.3v1.3v1.3v1.3v1.3v1.3v1.3v1.3v1.3v1.3v1.3v1.3v1.3v1.3v1.3v1.3v1.3v1.3v1.3v1.3v1.3v1.3v1.3v1.3v1.3v1.3v1.3v1.3v1.3v1.3v1.3v1.3v1.3v1.3v1.3v1.3v1.3v1.3v1.3v1.3v1.3v1.3v1.3v1.3v1.3v1.3v1.3v1.3v1.3v1.3v1.3v1.3v1.3v1.3v1.3v1.3v1.3v1.3v1.3v1.3v1.3v1.3v1.3v1.3v1.3v1.3v1.3v1.3v1.3v1.3v1.3v1.3v1.3v1.3v1.3v1.3v1.3v1.3v1.3v1.3v1.3v1.3v1.3v1.3v1.3v1.3v1.3v1.3v1.3v1.3v1.3v1.3v1.3v1.3v1.3v1.3" marker-start="url(#k)" marker-mid="url(#k)" marker-end="url(#k)"/>
<path class="c" d="M1569.6 707.0v1.2v3v2.2v.8v.8v1.8v2.2v2.6v.8v1v2.8v1.8v1.4v1.5v3.5v1.5v2.3v1.7v1.8v3.3v3.6v1.7v1.1v2.9v1.1v.6v3.3v1.9v3.1v1.8v.9v1.3v1.3v1.3v1.3v1.3v1.3v1.3v1.3v1.3v1.3v1.3v1.3v1.3v1.3v1.3v1.3v1.3v1.3v1.3v1.3v1.3v1.3v1.3v1.3v1.3v1.3v1.3v1.3v1.3v1.3v1.3v1.3v1.3v1.3v1.3v1.3v1.3v1.3v1.3v1.3v1.3v1.3v1.3v1.3v1.3v1.3v1.3v1.3v1.3v1.3v1.3v1.3v1.3v1.3v1.3v1.3v1.3v1.3v1.3v1.3v1.3v1.3v1.3v1.3v1.3v1.3v1.3v1.3v1.3v1.3v1.3v1.3v1.3v1.3v1.3v1.3v1.3v1.3v1.3v1.3v1.3v1.3v1.3v1.3v1.3v1.3v1.3v1.3v1.3v1.3v1.3v1.3v1.3v1.3v1.3v1.3v1.3v1.3v1.3v1.3v1.3v1.3v1.3v1.3v11.8" marker-start="url(#k)" marker-mid="url(#k)" marker-end="url(#k)"/>
<path class="c" d="M1595.3 606.6v7.4v2v13v6.2v6.2v3.6v2.4v1.3v.7v2.8v3.2v4.2v1v3.1v2.1v2.6v1.2v1.7v2.7v4.3v1.1v7.6v2.5v9.5v3.5v4.1v1.3v1v4v4.2v2.3v.8v3.9v2v3.9v10v4.5v1.4v4.3v1.8v2.5v4.6v4.5v1.6v1.7v4.7v8.4v8v3.1v2.5v1.3v1.8v4v4.8v1v1.3v1.3v1.3v1.3v1.3v1.3v1.3v1.3v1.3v1.3v1.3v1.3v1.3v1.3v1.3v1.3v1.3v1.3v1.3v1.3v1.3v1.3v1.3v1.3v1.3v1.3v1.3v1.3v1.3v1.3v1.3v1.3v1.3v1.3v1.3v1.3v1.3v1.3v1.3v1.3v1.3v1.3v1.3v1.3v1.3v1.3v1.3v1.3v1.3v1.3v1.3v1.3v1.3v1.3v1.3v1.3v1.3v1.3v1.3v1.3v1.3v1.3v1.3v1.3v1.3v1.3v1.3v1.3v1.3v1.3v1.3v1.3v1.3v1.3v1.3v1.3v1.3v1.3v1.3v1.3v1.3v1.3v1.3v1.3v1.3" marker-start="url(#k)" marker-mid="url(#k)" marker-end="url(#k)"/>
<path class="c" d="M1647.0 862.0v1.3v1.3v1.3v1.3v1.3v1.3v1.3v1.3v1.3v1.3v1.3v1.3v1.3v1.3v1.3v1.3v1.3v1.3v1.3v1.3v1.3v1.3v1.3v1.3v1.3v1.3v1.3v1.3v1.3v1.3v1.3v1.3v1.3v1.3v1.3v1.3v1.3v1.3v1.3v1.3v1.3v1.3" marker-start="url(#k)" marker-mid="url(#k)" marker-end="url(#k)"/>
<path class="c" d="M1665.0 704.3v2.8v3.6v.8v4v1.1v3v2.8v3.1v1.8v2.3v2.9v2.3v3.2v2.4v2.4v.7v3.1v2.6v1.5v3.6v3.7v2.5v1.3v2.5v1.1v1.1v2.4v1v2.4v.7v1.3v1.3v1.3v1.3v1.3v1.3v1.3v1.3v1.3v1.3v1.3v1.3v1.3v1.3v1.3v1.3v1.3v1.3v1.3v1.3v1.3v1.3v1.3v1.3v1.3v1.3v1.3v1.3v1.3v1.3v1.3v1.3v1.3v1.3v1.3v1.3v1.3v1.3v1.3v1.3v1.3v1.3v1.3v1.3v1.3v1.3v1.3v1.3v1.3v1.3v1.3v1.3v1.3v1.3v1.3v1.3v1.3v1.3v1.3v1.3v1.3v1.3v1.3v1.3v1.3v1.3v1.3v1.3v1.3v1.3v1.3v1.3v1.3v1.3v1.3v1.3v1.3v1.3v1.3v1.3v1.3v1.3v1.3v1.3v1.3v1.3v1.3v1.3v1.3v1.3v1.3v1.3v1.3v1.3v1.3v1.3v1.3v1.3v1.3v1.3v1.3v1.3v1.3v1.3v1.3v1.3v1.3v1.3v1.3" marker-start="url(#k)" marker-mid="url(#k)" marker-end="url(#k)"/>
<path class="c" d="M1714.3 206.1v8.1v30.4v36.8v14.2v1.9v28.8v30.9v12.4v24.2v45.9v28.9v.7v52.2v63.5v.6v27.7v16.5v6.7v2.5v31.2v30.9v22.9v14.5v3.5v.6v2.4v.8v2.7v2.8v2v.7v2v1.7v3.3v.9v3.1v3.5v2.7v2.9v1.1v3.4v2v3.4v3.2v1v2.9v3.3v.7v1.5v2.8v1v3.2v1.3v11.1v12.5v1.3v1.3v1.3v1.3v1.3v1.3v1.3v1.3v1.3v1.3v1.3v1.3v1.3v1.3v1.3v1.3v1.3v1.3v1.3v1.3v1.3v1.3v1.3v1.3v1.3v1.3v1.3v1.3v1.3v1.3v1.3v1.3v1.3v1.3v1.3v1.3v1.3v1.3v1.3v1.3v1.3v1.3v1.3v1.3v1.3v1.3" marker-start="url(#k)" marker-mid="url(#k)" marker-end="url(#k)"/>
<path class="c" d="M1732.2 730.4v1.2v2.6v4.3v1.4v1.7v2.6v1.9v.8v1.4v1.2v4.3v3.3v4.2v2.2v6.7v4v3.8v3.7v1.1v2.7v3.2v2v4.1v2.8v2.9v4.1v.4v1.3v1.3v1.3v1.3v1.3v1.3v1.3v1.3v1.3v1.3v1.3v1.3v1.3v1.3v1.3v1.3v1.3v1.3v1.3v1.3v1.3v1.3v1.3v1.3v1.3v1.3v1.3v1.3v1.3v1.3v1.3v1.3v1.3v1.3v1.3v1.3v1.3v1.3v1.3v1.3v1.3v1.3v1.3v1.3v1.3v1.3v1.3v1.3v1.3v1.3v1.3v1.3v1.3v1.3v1.3v1.3v1.3v1.3v1.3v1.3v1.3v1.3v1.3v1.3v1.3v1.3v1.3v1.3v1.3v1.3v1.3v1.3v1.3v1.3v1.3v1.3v1.3v1.3v1.3v1.3v1.3v1.3v1.3v1.3v1.3v1.3" marker-start="url(#k)" marker-mid="url(#k)" marker-end="url(#k)"/>
<path class="c" d="M1738.9 807.8v1.3v1.3v1.3v1.3v1.3v1.3v1.3v1.3v1.3v1.3v1.3v1.3v1.3v1.3v1.3v1.3v1.3v1.3v1.3v1.3v1.3v1.3v1.3v1.3v1.3v1.3v1.3v1.3v1.3v1.3v1.3v1.3v1.3v1.3v1.3v1.3v1.3v1.3v1.3v1.3v1.3v1.3v1.3v1.3v1.3v1.3v1.3v1.3v1.3v1.3v1.3v1.3v1.3v1.3v1.3v1.3v1.3v1.3v1.3v1.3v1.3v1.3v1.3v1.3v1.3v1.3v1.3v1.3v1.3v1.3v1.3v1.3v1.3v1.3v1.3v1.3v1.3v1.3v1.3v1.3v1.3v1.3v1.3v1.3" marker-start="url(#k)" marker-mid="url(#k)" marker-end="url(#k)"/>
<path class="c" d="M1773.9 772.0v3.5v2.4v1.7v2.8v1.3v3.5v2.2v1.6v2.8v.2v1.3v1.3v1.3v1.3v1.3v1.3v1.3v1.3v1.3v1.3v1.3v1.3v1.3v1.3v1.3v1.3v1.3v1.3v1.3v1.3v1.3v1.3v1.3v1.3v1.3v1.3v1.3v1.3v1.3v1.3v1.3v1.3v1.3v1.3v1.3v1.3v1.3v1.3v1.3v1.3v1.3v1.3v1.3v1.3v1.3v1.3v1.3v1.3v1.3v1.3v1.3v1.3v1.3v1.3v1.3v1.3v1.3v1.3v1.3v1.3v1.3v1.3v1.3v1.3v1.3v1.3v1.3v1.3v1.3v1.3v1.3v1.3v1.3v1.3v1.3v1.3v1.3v1.3v1.3v1.3v1.3v1.3v1.3v1.3v1.3v1.3v1.3v1.3v1.3v1.3v1.3v1.3v1.3v1.3v1.3" marker-start="url(#k)" marker-mid="url(#k)" marker-end="url(#k)"/>
<path class="c" d="M1797.7 641.4v1v2.8v.6v3v1.2v2.4v3.5v2.3v10.1v9.2v6.5v3.3v1.2v1.4v2.1v5.4v4.2v3.4v4.9v1.4v1.9v3.8v.9v.7v2.5v1.2v2.5v1.8v3.5v3.5v1.7v3.7v3v1.4v5.1v1.9v1.5v1.2v3.7v3.2v3.7v2.2v1.7v.7v3.2v2.8v2v3.2v2.4v4.3v3.5v1.6v4.2v.8v2.7v3v2.4v1.4v5.6v1.1v4.3v3.2v1.3v1.3v1.3v1.3v1.3v1.3v1.3v1.3v1.3v1.3v1.3v1.3v1.3v1.3v1.3v1.3v1.3v1.3v1.3v1.3v1.3v1.3v1.3v1.3v1.3v1.3v1.3v1.3v1.3v1.3v1.3v1.3v1.3v1.3v1.3v1.3v1.3v1.3v1.3v1.3v1.3v1.3v1.3v1.3v1.3v1.3v1.3v1.3v1.3v1.3v1.3v1.3v1.3v1.3v1.3v1.3v1.3v1.3v1.3v1.3v1.3v1.3v1.3v1.3v1.3v1.3v1.3v1.3v1.3v1.3v1.3v1.3v1.3v1.3v1.3" marker-start="url(#k)" marker-mid="url(#k)" marker-end="url(#k)"/>
<path class="c" d="M1012.0 898.0v1.4v1.6v3.5v3.1v3.6v4.4v1.5" marker-start="url(#r)" marker-mid="url(#r)" marker-end="url(#r)"/>
<path class="c" d="M1016.1 871.8v3.7v13.5v4.4v6v4.5" marker-start="url(#r)" marker-mid="url(#r)" marker-end="url(#r)"/>
<path class="c" d="M1023.9 881.5v3.7v6.8v2.1v1v4.7v4.3v4v.7v4.6" marker-start="url(#r)" marker-mid="url(#r)" marker-end="url(#r)"/>
<path class="c" d="M1028.4 892.0v1.9v2.7v1.9v1.2v.8v1.2v.6v1.5v2.7v2.6v3.1v2.6v1.3" marker-start="url(#r)" marker-mid="url(#r)" marker-end="url(#r)"/>
<path class="c" d="M1032.2 907.0v1.4v2.3v1.7v1v2" marker-start="url(#r)" marker-mid="url(#r)" marker-end="url(#r)"/>
<path class="c" d="M1036.6 911.0v1.5v1.5v1.5v1.5" marker-start="url(#r)" marker-mid="url(#r)" marker-end="url(#r)"/>
<path class="c" d="M1052.0 899.4v4.5v4.5v4.4v3" marker-start="url(#r)" marker-mid="url(#r)" marker-end="url(#r)"/>
<path class="c" d="M1144.0 855.4v3.6v9v7.5v7.5v7.4v6v14.6v3" marker-start="url(#r)" marker-mid="url(#r)" marker-end="url(#r)"/>
<path class="c" d="M1156.0 889.7v1.3v3.6v.7v1.4v1.4v3.2v3.8v3.1v1.8v3.6v1.7v1.4" marker-start="url(#r)" marker-mid="url(#r)" marker-end="url(#r)"/>
<path class="c" d="M1152.5 896.0v3.6v3.9v3.7v5.2v2.8" marker-start="url(#r)" marker-mid="url(#r)" marker-end="url(#r)"/>
<path class="c" d="M1167.2 819.6v8.2v14.9v19.3v4.7v5.5v3.3v4.8v4v2.5v2.1v4.2v1.3v5.9v1.6v1.1v1.5v5.9v2.7v1.7v1.1v1.1" marker-start="url(#r)" marker-mid="url(#r)" marker-end="url(#r)"/>
<path class="c" d="M1170.2 869.6v4.8v5.2v5.4v1.4v4.5v3.2v5.9v5.9v6.4v1.4" marker-start="url(#r)" marker-mid="url(#r)" marker-end="url(#r)"/>
<path class="c" d="M1185.0 889.7v5.3v4.4v3.6" marker-start="url(#r)" marker-mid="url(#r)" marker-end="url(#r)"/>
<path class="c" d="M1347.3 638.7v0" marker-start="url(#b)" marker-mid="url(#b)" marker-end="url(#b)"/>
<rect x="1010.5" y="82.7" width="522" height="109.3" fill="#fff" stroke="#3a3a3a" stroke-width="1.2"/>
<circle cx="1036.6" cy="102.0" r="4.35" fill="none" stroke="#1f1436" stroke-width="1.1"/>
<text class="t" transform="translate(1061.5 113.0) scale(1 1.035)">MAS - MUO October 28-31, 2003</text>
<circle cx="1036.6" cy="137.2" r="4.35" fill="none" stroke="#a6192e" stroke-width="1.1"/>
<text class="t" transform="translate(1061.5 148.2) scale(1 1.035)">MIK - ROS December 10-12, 1977</text>
<circle cx="1036.6" cy="172.5" r="4.35" fill="none" stroke="#4db8e8" stroke-width="1.1"/>
<text class="t" transform="translate(1061.5 183.5) scale(1 1.035)">ROS - RIJ October 28, 1977</text>
</svg></body></html>
